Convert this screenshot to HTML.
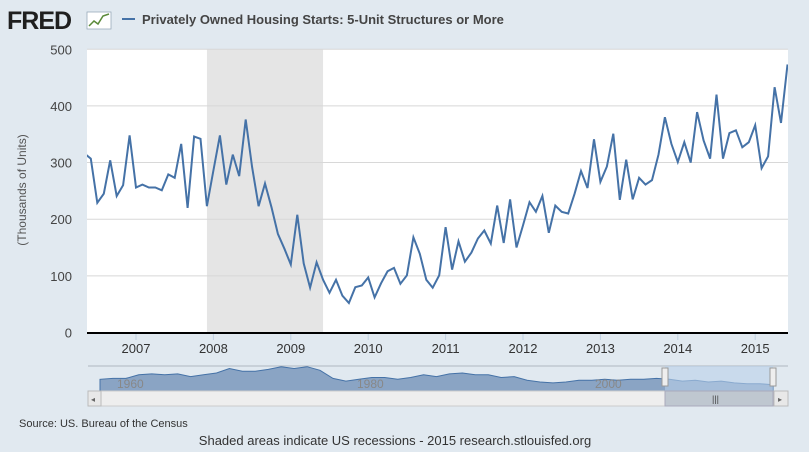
<!DOCTYPE html>
<html><head><meta charset="utf-8"><style>
body{margin:0;width:809px;height:452px;background:#e1e9f0;font-family:"Liberation Sans",sans-serif;overflow:hidden;}
svg{display:block}
</style></head><body>
<svg id="c" width="809" height="452" font-family="Liberation Sans, sans-serif">
<rect width="809" height="452" fill="#e1e9f0"/>
<g>
<text x="7" y="29" font-size="25" font-weight="bold" fill="#1f1f1f" letter-spacing="-1">FRED</text>
<rect x="87" y="12" width="24" height="17" fill="#fff" stroke="#9ab" stroke-width="0.8"/>
<polyline points="89,26 94,21 98,24 103,16 109,14" fill="none" stroke="#5a8a3a" stroke-width="1.5"/>
</g>
<line x1="122" y1="19" x2="135" y2="19" stroke="#4572a7" stroke-width="2"/>
<text x="142" y="24" font-size="13" font-weight="bold" fill="#444">Privately Owned Housing Starts: 5-Unit Structures or More</text>
<rect x="87" y="49" width="701" height="284" fill="#fff"/>
<g id="grid"></g>
<rect id="rec" y="49" height="284" fill="#e5e5e5"/>
<g id="gridtop"></g>
<defs><clipPath id="clip"><rect x="87" y="40" width="701" height="300"/></clipPath></defs>
<path id="line" fill="none" stroke="#4572a7" stroke-width="2" clip-path="url(#clip)"/>
<line x1="87" y1="333" x2="788" y2="333" stroke="#000" stroke-width="2"/>
<g id="yt"></g><g id="xt"></g>
<text transform="translate(26,190) rotate(-90)" text-anchor="middle" font-size="12" fill="#555">(Thousands of Units)</text>
<g>
<rect x="100" y="366" width="673" height="25" fill="#e1e9f0"/>
<line x1="88" y1="366" x2="788" y2="366" stroke="#b0b8c0"/>
<path id="navarea" fill="#8aa4c4" stroke="#4572a7" stroke-width="1"/>
<rect x="665" y="366" width="108" height="25" fill="#b9d0ea" opacity="0.6"/>
<text x="117" y="388" font-size="12" fill="#888">1960</text>
<text x="357" y="388" font-size="12" fill="#888">1980</text>
<text x="595" y="388" font-size="12" fill="#888">2000</text>
<rect x="662" y="368" width="6" height="18" fill="#eee" stroke="#999"/>
<rect x="770" y="368" width="6" height="18" fill="#eee" stroke="#999"/>
</g>
<g>
<rect x="88" y="391" width="700" height="15" fill="#eeeeee" stroke="#ccc"/>
<rect x="88" y="391" width="13" height="15" fill="#e8e8e8" stroke="#bbb"/>
<text x="91" y="402" font-size="8" fill="#666">◂</text>
<rect x="665" y="391" width="108" height="15" fill="#bfc7d0" stroke="#aab"/>
<text x="712" y="402" font-size="9" fill="#444">|||</text>
<rect x="774" y="391" width="14" height="15" fill="#e8e8e8" stroke="#bbb"/>
<text x="778" y="402" font-size="8" fill="#666">▸</text>
</g>
<text x="19" y="427" font-size="11" fill="#333">Source: US. Bureau of the Census</text>
<text x="395" y="445" font-size="13" fill="#333" text-anchor="middle">Shaded areas indicate US recessions - 2015 research.stlouisfed.org</text>
</svg>
<script>
const values=[316,307,229,245,304,241,260,348,
256,261,256,256,251,279,273,333,220,346,342,223,
286,348,261,314,276,376,292,223,263,221,174,148,
120,208,122,79,124,93,70,93,65,52,80,83,
97,62,87,108,114,86,101,168,139,93,79,101,
186,111,161,125,141,166,180,157,224,158,235,150,
189,230,213,241,176,224,213,210,245,285,255,341,
266,293,351,234,305,235,273,261,269,314,380,333,
301,336,300,389,339,307,420,307,352,357,327,336,
366,290,311,433,370,473];
const startMonth=-8; // May 2006 relative to Jan 2007
const yTicks=[0,100,200,300,400,500];
const xYears=[2007,2008,2009,2010,2011,2012,2013,2014,2015];
const recession=[11,29]; // months from Jan 2007
const navShape=[28,29,29,33,34,33,34,31,33,35,40,37,37,39,42,40,42,38,29,26,28,30,30,28,30,33,31,34,35,33,33,30,31,27,25,24,25,27,27,28,27,28,28,29,28,26,27,25,26,24,23,23,22];
const NS='http://www.w3.org/2000/svg';
const xM=m=>136+m*6.45;
const yV=v=>332.5-v*0.5665;
const g=document.getElementById('grid'),yt=document.getElementById('yt'),xt=document.getElementById('xt'),gt=document.getElementById('gridtop');
yTicks.forEach(t=>{
 const l=document.createElementNS(NS,'line');
 l.setAttribute('x1',87);l.setAttribute('x2',788);l.setAttribute('y1',yV(t));l.setAttribute('y2',yV(t));
 l.setAttribute('stroke','#d8d8d8');
 
 
 (t===0?g:gt).appendChild(l);
 const tx=document.createElementNS(NS,'text');
 tx.setAttribute('x',72);tx.setAttribute('y',yV(t)+5);tx.setAttribute('text-anchor','end');tx.setAttribute('font-size','13');tx.setAttribute('fill','#444');
 tx.textContent=t;
 
 
 yt.appendChild(tx);
});
const rec=document.getElementById('rec');
rec.setAttribute('x',xM(recession[0]));rec.setAttribute('width',xM(recession[1])-xM(recession[0]));
xYears.forEach((yr,i)=>{
 const x=xM(i*12);
 const l=document.createElementNS(NS,'line');
 l.setAttribute('x1',x);l.setAttribute('x2',x);l.setAttribute('y1',334);l.setAttribute('y2',340);l.setAttribute('stroke','#c0d0e0');
 
 
 xt.appendChild(l);
 const tx=document.createElementNS(NS,'text');
 tx.setAttribute('x',x);tx.setAttribute('y',353);tx.setAttribute('text-anchor','middle');tx.setAttribute('font-size','13');tx.setAttribute('fill','#333');
 tx.textContent=yr;
 
 
 xt.appendChild(tx);
});
document.getElementById('line').setAttribute('d',values.map((v,i)=>(i?'L':'M')+xM(startMonth+i).toFixed(1)+','+yV(v).toFixed(1)).join(''));
const n=navShape.length;
let d='M100,391';
navShape.forEach((h,i)=>{d+='L'+(100+i*673/(n-1)).toFixed(1)+','+(391-(h-15)*0.9).toFixed(1);});
d+='L773,391Z';
document.getElementById('navarea').setAttribute('d',d);
</script>
</body></html>
